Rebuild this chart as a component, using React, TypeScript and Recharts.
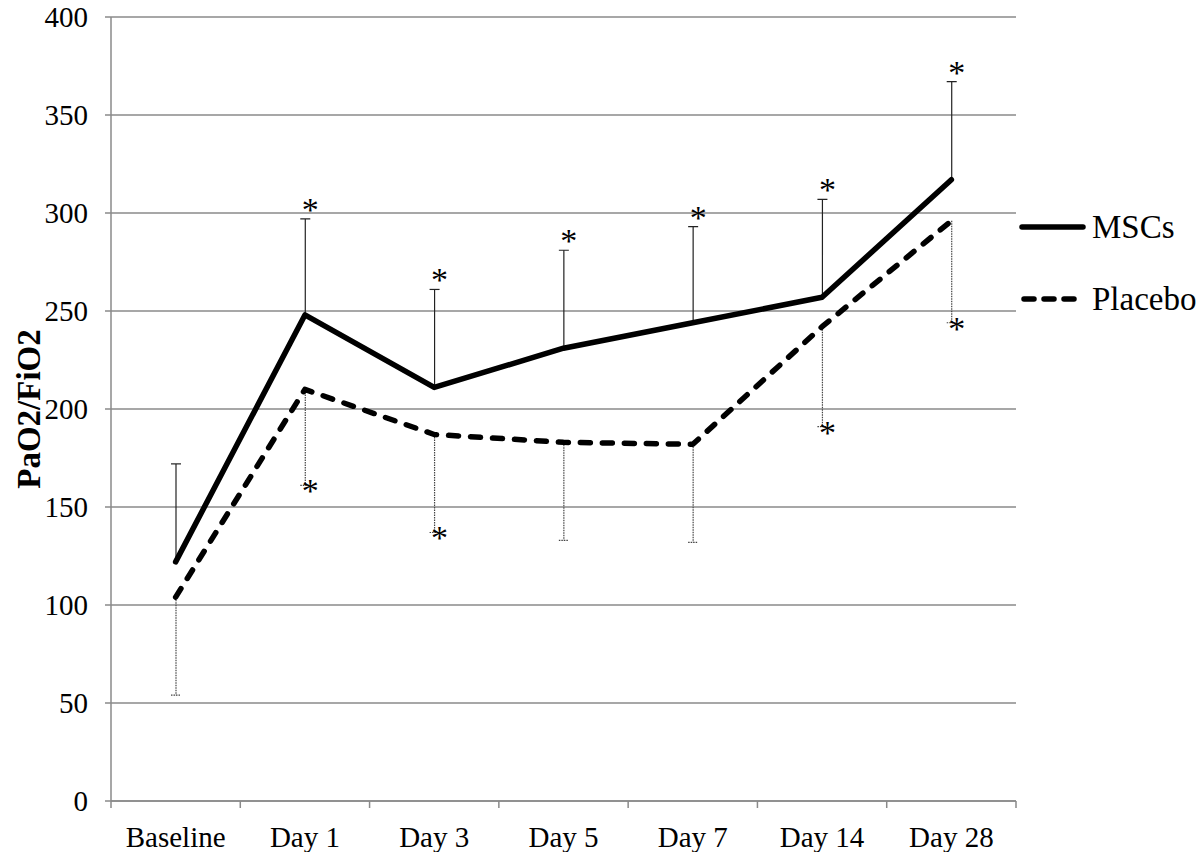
import React from 'react';
import { ComposedChart, Line, Bar, XAxis, YAxis, CartesianGrid } from 'recharts';

const categories = ['Baseline', 'Day 1', 'Day 3', 'Day 5', 'Day 7', 'Day 14', 'Day 28'];
const mscValues = [122, 248, 211, 231, 244, 257, 317];
const mscUpper = [172, 297, 261, 281, 293, 307, 367];
const placeboValues = [104, 210, 187, 183, 182, 242, 296];
const placeboLower = [54, 161, 137, 133, 132, 191, 244];
const mscSignificant = [false, true, true, true, true, true, true];
const placeboSignificant = [false, true, true, false, false, true, true];
const yTicks = [0, 50, 100, 150, 200, 250, 300, 350, 400];
const seriesNames = ['MSCs', 'Placebo'];

const data = categories.map((c, i) => ({
  category: c,
  MSCs: mscValues[i],
  Placebo: placeboValues[i],
  mscRange: [mscValues[i], mscUpper[i]],
  placeboRange: [placeboLower[i], placeboValues[i]],
}));

const FONT = '"Liberation Serif", "Times New Roman", Times, serif';
const GRID = '#8a8a8a';
const CHART_W = 1200;
const CHART_H = 852;
const MARGIN = { top: 17, right: 184, bottom: 0, left: 0 };
const Y_AXIS_W = 111;
const X_AXIS_H = 51;
const BAND_HALF = (CHART_W - MARGIN.right - MARGIN.left - Y_AXIS_W) / categories.length / 2;
const DASH = '10 12';
const TICK_FONT = 29;
const STAR_FONT = 34;

const XTick = (props: any) => {
  const { x, y, payload, index } = props;
  const last = index === categories.length - 1;
  return (
    <g>
      <line x1={x - BAND_HALF} y1={y} x2={x - BAND_HALF} y2={y + 7} stroke={GRID} strokeWidth={1.5} />
      {last && <line x1={x + BAND_HALF} y1={y} x2={x + BAND_HALF} y2={y + 7} stroke={GRID} strokeWidth={1.5} />}
      <text x={x} y={y + 46} textAnchor="middle" fontFamily={FONT} fontSize={TICK_FONT} fill="#000">
        {payload.value}
      </text>
    </g>
  );
};

const makeErrorShape = (capAtTop: boolean, dotted: boolean, sig: boolean[]) => (props: any) => {
  const { x, y, width, height, payload } = props;
  const idx = typeof props.index === 'number' ? props.index : categories.indexOf(payload?.category);
  if (x == null || y == null) return <g />;
  const cx = x + width / 2;
  const top = Math.min(y, y + height);
  const bottom = Math.max(y, y + height);
  const capY = capAtTop ? top : bottom;
  const stroke = dotted ? '#444' : '#222';
  return (
    <g>
      <line x1={cx} y1={top} x2={cx} y2={bottom} stroke={stroke} strokeWidth={1.2}
        strokeDasharray={dotted ? '1.5 1' : undefined} />
      <line x1={cx - 5} y1={capY} x2={cx + 5} y2={capY} stroke={stroke} strokeWidth={1.2}
        strokeDasharray={dotted ? '1.5 1' : undefined} />
      {sig[idx] && (
        <text x={cx + 5} y={capAtTop ? capY + 2 : capY + 17} textAnchor="middle"
          fontFamily={FONT} fontSize={STAR_FONT} fill="#000">*</text>
      )}
    </g>
  );
};

const LegendBox = () => (
  <svg width={185} height={140} style={{ position: 'absolute', left: 1015, top: 190, display: 'block' }}>
    {seriesNames.map((name, i) => {
      const ly = 37 + i * 72;
      return (
        <g key={name}>
          <line x1={i === 1 ? 9 : 7} y1={ly} x2={i === 1 ? 60 : 68} y2={ly} stroke="#000" strokeWidth={5.5}
            strokeLinecap="round"
            strokeDasharray={i === 1 ? '10 10' : undefined} />
          <text x={77} y={ly + 11} fontFamily={FONT} fontSize={33} fill="#000">{name}</text>
        </g>
      );
    })}
  </svg>
);

const renderYLabel = () => {
  const cy = MARGIN.top + (CHART_H - MARGIN.top - MARGIN.bottom - X_AXIS_H) / 2;
  return (
    <text x={40} y={cy} transform={`rotate(-90, 40, ${cy})`} textAnchor="middle"
      fontFamily={FONT} fontSize={33} fontWeight="bold" fill="#000">
      PaO2/FiO2
    </text>
  );
};

export default function App() {
  return (
    <div style={{ position: 'absolute', left: 0, top: 0, width: CHART_W, height: CHART_H, background: '#fff' }}>
      <ComposedChart width={CHART_W} height={CHART_H} data={data} margin={MARGIN}
        barGap={-10} barCategoryGap={0}>
        <CartesianGrid vertical={false} stroke={GRID} strokeWidth={1.5} />
        <XAxis dataKey="category" height={X_AXIS_H} tickSize={0} tickMargin={0} tickLine={false}
          axisLine={{ stroke: GRID, strokeWidth: 1.5 }} tick={<XTick />} interval={0} />
        <YAxis width={Y_AXIS_W} domain={[0, 400]} ticks={yTicks} tickSize={6} tickMargin={17}
          axisLine={{ stroke: GRID, strokeWidth: 1.5 }} tickLine={{ stroke: GRID, strokeWidth: 1.5 }}
          tick={{ fill: '#000', fontSize: TICK_FONT, fontFamily: FONT }} interval={0}
          label={renderYLabel} allowDataOverflow />
        <Bar dataKey="mscRange" barSize={10} legendType="none" isAnimationActive={false}
          shape={makeErrorShape(true, false, mscSignificant)} />
        <Bar dataKey="placeboRange" barSize={10} legendType="none" isAnimationActive={false}
          shape={makeErrorShape(false, true, placeboSignificant)} />
        <Line dataKey="MSCs" name="MSCs" stroke="#000" strokeWidth={5.5} dot={false}
          strokeLinejoin="round" strokeLinecap="round" isAnimationActive={false} type="linear" />
        <Line dataKey="Placebo" name="Placebo" stroke="#000" strokeWidth={5.5} dot={false}
          strokeDasharray={DASH} strokeLinecap="round" strokeLinejoin="round"
          isAnimationActive={false} type="linear" />
      </ComposedChart>
      <LegendBox />
    </div>
  );
}
